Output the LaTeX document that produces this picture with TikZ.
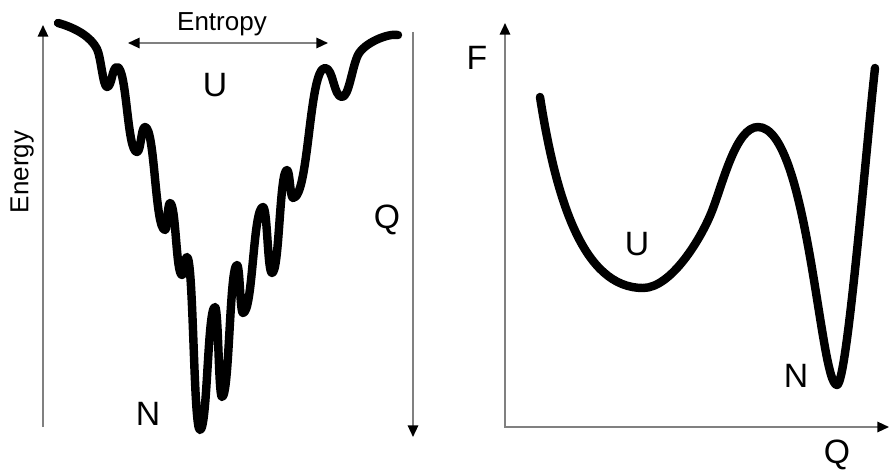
\documentclass[tikz,border=0pt]{standalone}
\usepackage{fontspec}
\setmainfont{Liberation Sans}
\usetikzlibrary{arrows.meta}
\definecolor{axisgray}{gray}{0.5}

\begin{document}
\begin{tikzpicture}[
  x=0.025cm, y=0.025cm,
  >={Triangle[length=2.9mm,width=2.6mm,color=black]},
  axis/.style={draw=axisgray, line width=1.3pt},
  land/.style={line width=6pt, line cap=round, line join=round},
  lab/.style={inner sep=0pt, anchor=base, font=\fontsize{24}{28}\selectfont},
  small/.style={inner sep=0pt, font=\fontsize{18.5}{22}\selectfont}
]
\useasboundingbox (0,0) rectangle (889,469);

% ===================== Funnel landscape =====================
% Axes
\coordinate (Ebot) at (43,42);
\coordinate (Etop) at (43,444);
\draw[axis,->] (Ebot) -- (Etop);

\coordinate (Sl) at (128,426);
\coordinate (Sr) at (328,426);
\draw[axis,<->] (Sl) -- (Sr);

\coordinate (Qtop) at (413,437);
\coordinate (Qbot) at (413,32);
\draw[axis,->] (Qtop) -- (Qbot);

% Labels
\node[small, rotate=90] (energy) at (22,297) {Energy};
\node[small, anchor=base] (entropy) at (222,438) {Entropy};
\node[lab] (Ul) at (215,372) {U};
\node[lab] (Ql) at (387,241) {Q};
\node[lab] (Nl) at (148,44) {N};

% Rugged funnel
\draw[land] (58,446)
  .. controls +(18,-5) and +(-6,12) .. (97,420)
  .. controls +(4,-8) and +(-4,0) .. (107,382)
  .. controls +(5,0) and +(-5,0) .. (117,402)
  .. controls +(10,0) and +(-10,0) .. (137,317)
  .. controls +(4,0) and +(-4,0) .. (145,342)
  .. controls +(10,0) and +(-10,0) .. (165,239)
  .. controls +(2.5,0) and +(-2.5,0) .. (170,266)
  .. controls +(6,0) and +(-6,0) .. (182,194)
  .. controls +(2.5,0) and +(-2.5,0) .. (187,212)
  .. controls +(6.5,0) and +(-6.5,0) .. (200,39)
  .. controls +(7.5,0) and +(-7.5,0) .. (215,162)
  .. controls +(3.5,0) and +(-3.5,0) .. (222,72)
  .. controls +(7.5,0) and +(-7.5,0) .. (237,204)
  .. controls +(3,0) and +(-3,0) .. (243,156)
  .. controls +(10,0) and +(-10,0) .. (263,262)
  .. controls +(4.5,0) and +(-4.5,0) .. (272,196)
  .. controls +(7.5,0) and +(-7.5,0) .. (287,299)
  .. controls +(3,0) and +(-3,0) .. (293,271)
  .. controls +(16,0) and +(-16,0) .. (325,401)
  .. controls +(8.5,0) and +(-8.5,0) .. (342,372)
  .. controls +(7,0) and +(-6,-12) .. (358,414)
  .. controls +(6,12) and +(-10,2) .. (398,434);

% ===================== Free energy profile =====================
% Axes
\coordinate (O) at (505,42);
\coordinate (Ftop) at (505,446);
\coordinate (Qend) at (889,42);
\draw[axis,<->] (Ftop) -- (O) -- (Qend);

% Labels
\node[lab] (F) at (477,399) {F};
\node[lab] (Qr) at (837,6) {Q};
\node[lab] (Ur) at (637,214) {U};
\node[lab] (Nr) at (796,82) {N};

% Double well
\draw[land] (540,372)
  .. controls (556,270) and (583,181) .. (643,181)
  .. controls +(28,0) and +(-11,-28) .. (712,258)
  .. controls +(11,28) and +(-22,0) .. (758,342)
  .. controls +(50,0) and +(-17,0) .. (837,84)
  .. controls +(10,0) and +(-9,-81) .. (875,401);

\end{tikzpicture}
\end{document}
